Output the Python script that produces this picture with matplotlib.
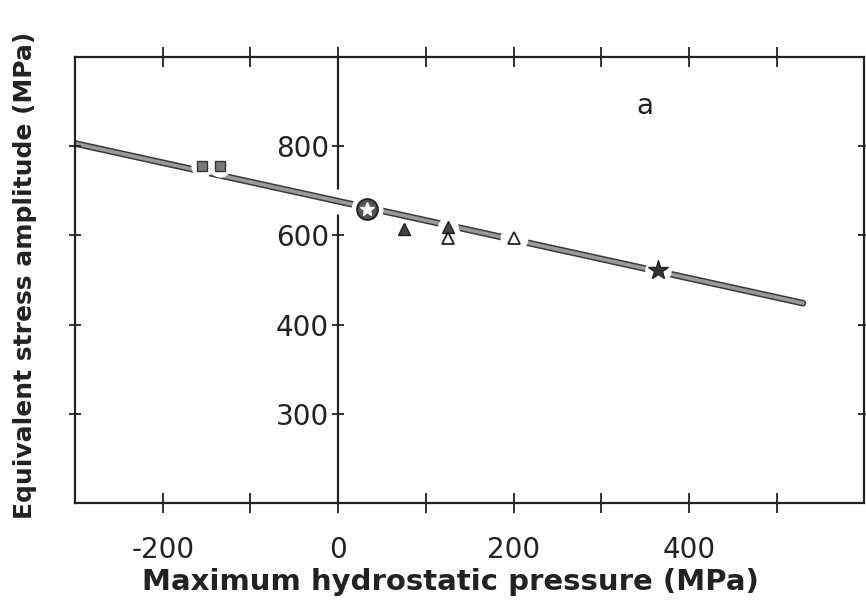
import numpy as np
import matplotlib
matplotlib.use('Agg')
import matplotlib.pyplot as plt
import matplotlib.patheffects as pe
from matplotlib.ticker import FixedLocator, FuncFormatter

# fitted line (MPa)
line_x = [-300, 530]
line_y = [806, 448]

# experimental points
sq_x = [-155, -135]
sq_y = [755, 755]
circ_x = [33]
circ_y = [660]
tri_f_x = [75, 125]
tri_f_y = [614, 619]
tri_o_x = [125, 200]
tri_o_y = [595, 595]
star_x = [365]
star_y = [522]

ytick_vals = [300, 400, 600, 800]
xtick_vals = list(range(-200, 600, 100))

# the ordinate of the original is not linear: ticks are evenly spaced
val_knots = [100, 200, 300, 400, 600, 800, 1000, 1200]
pos_knots = [-1, 0, 1, 2, 3, 4, 5, 6]

def fwd(v):
    return np.interp(v, val_knots, pos_knots)

def inv(p):
    return np.interp(p, pos_knots, val_knots)

plt.rcParams['font.family'] = ['DejaVu Sans']
ink = '#222222'

fig = plt.figure(figsize=(8.66, 6.12), dpi=100)
rect = [0.0866, 0.178, 0.9115, 0.729]
ax = fig.add_axes(rect)
ax.set_yscale('function', functions=(fwd, inv))
ax.set_xlim(-300, 600)
ax.set_ylim(200, 1000)

# inner ordinate axis through x = 0
for s in ['top', 'bottom', 'left']:
    ax.spines[s].set_color(ink)
    ax.spines[s].set_linewidth(1.6)
ax.spines['right'].set_visible(False)
ax.spines['left'].set_position(('data', 0))

ax.yaxis.set_major_locator(FixedLocator(ytick_vals))
ax.yaxis.set_minor_locator(FixedLocator([]))
ax.yaxis.set_major_formatter(FuncFormatter(lambda v, p: '%d' % v))
ax.tick_params(axis='y', which='both', direction='inout', length=9, width=1.3,
               color=ink, labelsize=20, pad=2, labelcolor=ink)

ax.xaxis.set_major_locator(FixedLocator(xtick_vals))
ax.xaxis.set_major_formatter(FuncFormatter(
    lambda v, p: ('-%d' % -v if v < 0 else '%d' % v) if int(v) % 200 == 0 else ''))
ax.tick_params(axis='x', direction='inout', length=14, width=1.3, color=ink,
               top=True, labelsize=20, pad=17, labelcolor=ink)

# outer frame left/right with its own ticks
ax2 = fig.add_axes(rect, sharey=ax)
ax2.patch.set_visible(False)
ax2.set_xlim(-300, 600)
for s in ['top', 'bottom']:
    ax2.spines[s].set_visible(False)
for s in ['left', 'right']:
    ax2.spines[s].set_color(ink)
    ax2.spines[s].set_linewidth(1.6)
ax2.set_xticks([])
ax2.tick_params(axis='y', which='both', left=True, right=True, direction='inout',
                length=9, width=1.3, color=ink, labelleft=False, labelright=False)

# fitted line, drawn as a thick grey band with dark edges
ln, = ax.plot(line_x, line_y, color='#9a9a9a', lw=2.6, solid_capstyle='round',
              zorder=4)
ln.set_path_effects([pe.Stroke(linewidth=4.8, foreground='#3a3a3a',
                               capstyle='round'), pe.Normal()])

# the inner axis is broken where the line crosses it
cross_y = inv(np.interp(0, line_x, fwd(np.array(line_y))))
ax.plot([0], [cross_y], marker='|', ms=18, mew=5, color='white', ls='none',
        zorder=3.5)

# white halos break the line at the points
halo = dict(color='white', ls='none', zorder=4.5)
ax.plot(sq_x, sq_y, marker='o', ms=15, **halo)
ax.plot(circ_x, circ_y, marker='o', ms=22, **halo)
ax.plot(tri_o_x, tri_o_y, marker='o', ms=19, **halo)
ax.plot(tri_f_x[1:], tri_f_y[1:], marker='o', ms=14, **halo)
ax.plot(star_x, star_y, marker='o', ms=18, **halo)

ax.plot(sq_x, sq_y, marker='s', ms=6.5, ls='none', mfc='#777777', mec='#333333',
        mew=1.0, zorder=5)
ax.plot(circ_x, circ_y, marker='o', ms=15, ls='none', mfc='#555555',
        mec='#222222', mew=1.4, zorder=5)
ax.plot(circ_x, circ_y, marker='*', ms=10, ls='none', mfc='white', mec='white',
        zorder=6)
ax.plot(tri_f_x, tri_f_y, marker='^', ms=8, ls='none', mfc='#444444',
        mec='#222222', zorder=5)
ax.plot(tri_o_x, tri_o_y, marker='^', ms=8, ls='none', mfc='white',
        mec='#222222', mew=1.3, zorder=5)
ax.plot(star_x, star_y, marker='*', ms=15, ls='none', mfc='#333333',
        mec='#222222', zorder=5)

ax.text(0.722, 0.89, 'a', transform=ax.transAxes, fontsize=20, color=ink,
        ha='center', va='center')

ax.set_xlabel('Maximum hydrostatic pressure (MPa)', family=['DejaVu Sans'],
              fontsize=21, fontweight='bold', color=ink)
ax.xaxis.set_label_coords(0.475, -0.146)
ax.set_ylabel('Equivalent stress amplitude (MPa)', family=['DejaVu Sans'],
              fontsize=18, fontweight='bold', color=ink)
ax.yaxis.set_label_coords(-0.048, 0.511)

fig.savefig('out.png', dpi=100)
